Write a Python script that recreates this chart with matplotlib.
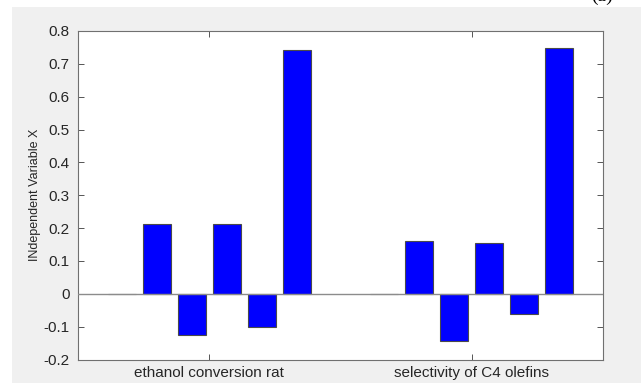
import matplotlib
matplotlib.use("Agg")
import matplotlib.pyplot as plt
import numpy as np
from matplotlib.patches import Rectangle

categories = ['ethanol conversion rat', 'selectivity of C4 olefins']
s1 = [0.0, 0.0]
s2 = [0.214, 0.160]
s3 = [-0.124, -0.144]
s4 = [0.212, 0.156]
s5 = [-0.102, -0.061]
s6 = [0.743, 0.749]
series = [s1, s2, s3, s4, s5, s6]
yticks = [-0.2, -0.1, 0, 0.1, 0.2, 0.3, 0.4, 0.5, 0.6, 0.7, 0.8]
ytick_labels = ['-0.2', '-0.1', '0', '0.1', '0.2', '0.3', '0.4', '0.5', '0.6', '0.7', '0.8']
ylabel = 'INdependent Variable X'

plt.rcParams['font.family'] = ['Liberation Sans', 'DejaVu Sans']

W, H = 641, 383
fig = plt.figure(figsize=(W / 100, H / 100), dpi=100)
fig.patch.set_facecolor('white')
# gray MATLAB figure background
fig.patches.append(Rectangle((12 / W, 0), 1 - 12 / W, 1 - 7 / H,
                             transform=fig.transFigure, facecolor='#f0f0f0',
                             edgecolor='none', zorder=-10))

ax = fig.add_axes([78 / W, (H - 359.5) / H, (603 - 78) / W, (359.5 - 31) / H])
ax.set_facecolor('white')

x = np.arange(1, len(categories) + 1)
n = len(series)
pitch = 0.8 / n
width = pitch * 0.8
for i, s in enumerate(series):
    ax.bar(x + (i - (n - 1) / 2) * pitch, s, width=width, color='#0000ff',
           edgecolor='#4a4a4a', linewidth=0.8, zorder=3)

ax.axhline(0, color='#8c8c8c', linewidth=1.0, zorder=4)

ax.set_xlim(0.5, 2.5)
ax.set_ylim(-0.2, 0.8)
ax.set_xticks(x)
ax.set_xticklabels(categories, fontsize=11, color='#262626')
ax.set_yticks(yticks)
ax.set_yticklabels(ytick_labels, fontsize=11, color='#262626')
ax.tick_params(direction='in', length=4, width=0.7, color='#555555',
               top=True, right=True)
ax.tick_params(axis='x', pad=5)
ax.tick_params(axis='y', pad=6)
for sp in ax.spines.values():
    sp.set_color('#707070')
    sp.set_linewidth(0.8)

ax.set_ylabel(ylabel, fontsize=9, color='#262626', labelpad=2)

fig.text(602 / W, 1 - 1 / H, '(a)', fontsize=14, family='Liberation Serif',
         ha='center', va='baseline', color='black')

fig.savefig('out.png', dpi=100, facecolor=fig.get_facecolor())
